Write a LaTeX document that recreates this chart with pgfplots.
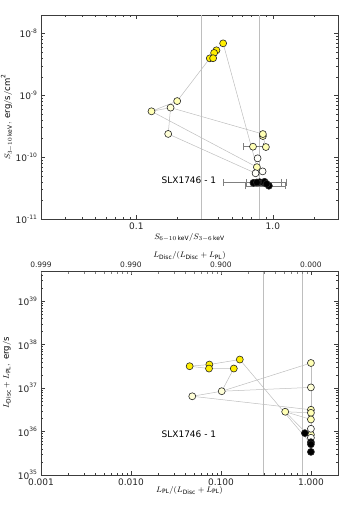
\documentclass[border=0pt]{standalone}
\usepackage{fontspec}
\setmainfont{DejaVu Sans}
\usepackage{pgfplots}
\pgfplotsset{compat=1.18}

\definecolor{ylw}{RGB}{255,238,0}
\definecolor{pale}{RGB}{255,255,180}
\definecolor{cream}{RGB}{255,255,215}
\definecolor{wht}{RGB}{255,255,250}
\definecolor{lgray}{RGB}{190,190,190}
\definecolor{frame}{RGB}{60,60,60}

\begin{document}
\begin{tikzpicture}
\useasboundingbox (0,0) rectangle (341pt,511pt);

% ---------------- upper panel: flux vs hardness
\begin{axis}[at={(41pt,292pt)}, anchor=south west,
  xmode=log, ymode=log,
  scale only axis, width=297pt, height=204pt,
  axis line style={frame, line width=0.8pt},
  tick style={frame, line width=0.5pt},
  major tick length=4pt, minor tick length=2pt,
  tick align=inside,
  ticklabel style={font=\fontsize{9}{10}\selectfont, text=black!85},
  label style={font=\fontsize{8.5}{10}\selectfont},
  xmin=0.02, xmax=3, ymin=1e-11, ymax=2e-8,
  xtick={0.1,1}, xticklabels={0.1,1.0},
  minor xtick={0.02,0.03,0.04,0.05,0.06,0.07,0.08,0.09,0.2,0.3,0.4,0.5,0.6,0.7,0.8,0.9,2,3},
  ytick={1e-11,1e-10,1e-9,1e-8},
  yticklabels={10\textsuperscript{-11},10\textsuperscript{-10},10\textsuperscript{-9},10\textsuperscript{-8}},
  minor ytick={2e-11,3e-11,4e-11,5e-11,6e-11,7e-11,8e-11,9e-11,2e-10,3e-10,4e-10,5e-10,6e-10,7e-10,8e-10,9e-10,2e-9,3e-9,4e-9,5e-9,6e-9,7e-9,8e-9,9e-9,2e-8},
  xlabel={$S_{6-10\,\mathrm{keV}}/S_{3-6\,\mathrm{keV}}$},
  ylabel={$S_{3-10\,\mathrm{keV}},\ \mathrm{erg/s/cm^2}$},
  xlabel style={at={(axis description cs:0.5,-0.09)}, anchor=center},
  ylabel style={at={(axis description cs:-0.115,0.5)}, rotate=0, anchor=center},
]
\addplot[lgray, line width=0.8pt, forget plot] coordinates {(0.3,1e-11) (0.3,2e-8)};
\addplot[lgray, line width=0.8pt, forget plot] coordinates {(0.8,1e-11) (0.8,2e-8)};

\addplot[lgray, line width=0.5pt, mark=none] coordinates {(0.432,6.96e-9) (0.764,6.9e-11)};
\addplot[lgray, line width=0.5pt, mark=none] coordinates {(0.345,3.98e-9) (0.199,8.1e-10) (0.129,5.53e-10) (0.178,6.34e-10) (0.845,2.37e-10) (0.845,2.2e-10) (0.889,1.46e-10)};
\addplot[lgray, line width=0.5pt, mark=none] coordinates {(0.178,6.34e-10) (0.171,2.38e-10) (0.747,5.5e-11)};
\addplot[lgray, line width=0.5pt, mark=none] coordinates {(0.129,5.53e-10) (0.764,6.9e-11)};

\addplot[only marks, mark=*, mark size=3.5pt, mark options={draw=black!85, line width=0.6pt, fill=pale},
  error bars/.cd, x dir=both, x explicit, error bar style={gray, line width=0.5pt}]
  coordinates {(0.715,1.48e-10) += (0.13,0) -= (0.11,0)};
\addplot[only marks, mark=*, mark size=3.5pt, mark options={draw=black!85, line width=0.6pt, fill=pale}]
  coordinates {(0.199,8.1e-10) (0.129,5.53e-10) (0.845,2.2e-10) (0.845,2.37e-10) (0.889,1.46e-10) (0.764,6.9e-11)};
\addplot[only marks, mark=*, mark size=3.5pt, mark options={draw=black!85, line width=0.6pt, fill=cream}]
  coordinates {(0.178,6.34e-10) (0.171,2.38e-10)};
\addplot[only marks, mark=*, mark size=3.5pt, mark options={draw=black!85, line width=0.6pt, fill=wht}]
  coordinates {(0.773,9.6e-11) (0.747,5.5e-11) (0.841,5.9e-11)};
\addplot[only marks, mark=*, mark size=3.5pt, mark options={draw=black!85, line width=0.6pt, fill=black},
  error bars/.cd, x dir=both, x explicit, error bar style={gray, line width=0.5pt}]
  coordinates {
  (0.80,3.95e-11) += (0.45,0) -= (0.364,0)
  (0.85,3.9e-11) += (0.30,0) -= (0.21,0)
  (0.935,3.45e-11) += (0.305,0) -= (0.307,0)
};
\addplot[only marks, mark=*, mark size=3.5pt, mark options={draw=black!85, line width=0.6pt, fill=black}]
  coordinates {(0.72,3.85e-11) (0.764,3.9e-11) (0.87,4.0e-11) (0.90,3.7e-11)};
\addplot[only marks, mark=*, mark size=3.5pt, mark options={draw=black!85, line width=0.6pt, fill=ylw}]
  coordinates {(0.432,6.96e-9) (0.386,5.37e-9) (0.371,4.87e-9) (0.345,3.98e-9) (0.365,4.0e-9)};

\node[font=\fontsize{9}{10}\selectfont] at (rel axis cs:0.498,0.19) {SLX1746 - 1};
\end{axis}

% ---------------- lower panel: luminosity vs PL fraction
\begin{axis}[at={(41pt,36pt)}, anchor=south west,
  xmode=log, ymode=log,
  scale only axis, width=297pt, height=204pt,
  axis line style={frame, line width=0.8pt},
  tick style={frame, line width=0.5pt},
  major tick length=4pt, minor tick length=2pt,
  tick align=inside,
  ticklabel style={font=\fontsize{9}{10}\selectfont, text=black!85},
  label style={font=\fontsize{8.5}{10}\selectfont},
  xmin=0.001, xmax=2, ymin=1e35, ymax=5e39,
  xtick={0.001,0.01,0.1,1}, xticklabels={0.001,0.010,0.100,1.000},
  minor xtick={0.002,0.003,0.004,0.005,0.006,0.007,0.008,0.009,0.02,0.03,0.04,0.05,0.06,0.07,0.08,0.09,0.2,0.3,0.4,0.5,0.6,0.7,0.8,0.9,2},
  ytick={1e35,1e36,1e37,1e38,1e39},
  yticklabels={10\textsuperscript{35},10\textsuperscript{36},10\textsuperscript{37},10\textsuperscript{38},10\textsuperscript{39}},
  minor ytick={2e35,3e35,4e35,5e35,6e35,7e35,8e35,9e35,2e36,3e36,4e36,5e36,6e36,7e36,8e36,9e36,2e37,3e37,4e37,5e37,6e37,7e37,8e37,9e37,2e38,3e38,4e38,5e38,6e38,7e38,8e38,9e38,2e39,3e39,4e39,5e39},
  xlabel={$L_{\mathrm{PL}}/(L_{\mathrm{Disc}}+L_{\mathrm{PL}})$},
  ylabel={$L_{\mathrm{Disc}}+L_{\mathrm{PL}},\ \mathrm{erg/s}$},
  xlabel style={at={(axis description cs:0.5,-0.075)}, anchor=center},
  ylabel style={at={(axis description cs:-0.115,0.5)}, rotate=0, anchor=center},
]
\addplot[lgray, line width=0.8pt, forget plot] coordinates {(0.3,1e35) (0.3,5e39)};
\addplot[lgray, line width=0.8pt, forget plot] coordinates {(0.8,1e35) (0.8,5e39)};

\addplot[lgray, line width=0.5pt, mark=none] coordinates {(0.0449,3.2e37) (0.0743,3.5e37) (0.162,4.56e37) (1,5.2e35)};
\addplot[lgray, line width=0.5pt, mark=none] coordinates {(0.0449,3.2e37) (0.0737,2.83e37) (0.139,2.83e37) (0.102,8.5e36) (1,3.8e37)};
\addplot[lgray, line width=0.5pt, mark=none] coordinates {(0.102,8.5e36) (1,1.04e37)};
\addplot[lgray, line width=0.5pt, mark=none] coordinates {(0.048,6.5e36) (0.102,8.5e36)};
\addplot[lgray, line width=0.5pt, mark=none] coordinates {(0.048,6.5e36) (1,3.18e36)};
\addplot[lgray, line width=0.5pt, mark=none] coordinates {(0.518,2.86e36) (1,2.7e36)};
\addplot[lgray, line width=0.5pt, mark=none] coordinates {(0.518,2.86e36) (1,1.9e36)};
\addplot[lgray, line width=0.5pt, mark=none] coordinates {(0.518,2.86e36) (1,7.2e35)};
\addplot[lgray, line width=0.5pt, mark=none] coordinates {(1,3.8e37) (1,3.4e35)};

\addplot[only marks, mark=*, mark size=3.5pt, mark options={draw=black!85, line width=0.6pt, fill=pale}]
  coordinates {(0.518,2.86e36) (1,3.8e37) (1,3.18e36) (1,2.7e36) (1,1.9e36) (1,8.5e35)};
\addplot[only marks, mark=*, mark size=3.5pt, mark options={draw=black!85, line width=0.6pt, fill=cream}]
  coordinates {(0.048,6.5e36) (0.102,8.5e36) (1,1.04e37)};
\addplot[only marks, mark=*, mark size=3.5pt, mark options={draw=black!85, line width=0.6pt, fill=wht}]
  coordinates {(1,1.16e36) (1,7.2e35)};
\addplot[only marks, mark=*, mark size=3.5pt, mark options={draw=black!85, line width=0.6pt, fill=black}]
  coordinates {(0.857,9.2e35) (1,5.7e35) (1,5.1e35) (1,3.4e35)};
\addplot[only marks, mark=*, mark size=3.5pt, mark options={draw=black!85, line width=0.6pt, fill=ylw}]
  coordinates {(0.0449,3.2e37) (0.0743,3.5e37) (0.0737,2.83e37) (0.139,2.83e37) (0.162,4.56e37)};

\node[font=\fontsize{9}{10}\selectfont] at (rel axis cs:0.498,0.2) {SLX1746 - 1};
\end{axis}

% top scale of the lower panel
\begin{axis}[at={(41pt,36pt)}, anchor=south west,
  xmode=log, ymode=log,
  scale only axis, width=297pt, height=204pt,
  xmin=0.001, xmax=2, ymin=1e35, ymax=5e39,
  hide y axis, axis x line*=top,
  axis line style={frame, line width=0.8pt},
  xtick={0.001,0.01,0.1,1}, xticklabels={0.999,0.990,0.900,0.000},
  minor xtick={}, major tick length=0pt,
  ticklabel style={font=\fontsize{7.5}{9}\selectfont, text=black!85},
  label style={font=\fontsize{8.5}{10}\selectfont},
  xlabel={$L_{\mathrm{Disc}}/(L_{\mathrm{Disc}}+L_{\mathrm{PL}})$},
  xlabel style={at={(axis description cs:0.5,1.075)}, anchor=center},
]
\addplot[draw=none, forget plot] coordinates {(0.01,1e36)};
\end{axis}
\end{tikzpicture}
\end{document}
